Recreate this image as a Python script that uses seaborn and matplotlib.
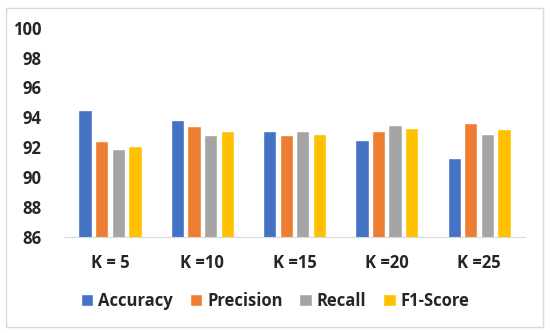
import numpy as np
import pandas as pd
import matplotlib.pyplot as plt
import seaborn as sns
from matplotlib.patches import Rectangle, Patch

categories = ["K = 5", "K =10", "K =15", "K =20", "K =25"]
metrics = ["Accuracy", "Precision", "Recall", "F1-Score"]
accuracy = [94.5, 93.8, 93.1, 92.5, 91.3]
precision = [92.4, 93.4, 92.8, 93.1, 93.6]
recall = [91.9, 92.8, 93.1, 93.5, 92.9]
f1_score = [92.1, 93.1, 92.9, 93.3, 93.2]
colors = ["#4472C4", "#ED7D31", "#A5A5A5", "#FFC000"]

df = pd.DataFrame({
    "K": categories * 4,
    "Metric": np.repeat(metrics, len(categories)),
    "Value": accuracy + precision + recall + f1_score,
})

sns.set_style("white")
plt.rcParams["font.family"] = ["Open Sans", "DejaVu Sans"]

fig = plt.figure(figsize=(5.5, 3.33), dpi=100)
ax = fig.add_axes([0.116, 0.288, 0.839, 0.629])

sns.barplot(data=df, x="K", y="Value", hue="Metric", palette=colors,
            saturation=1, width=0.72, gap=0.2, ax=ax, legend=False)

# excel-ish styling: bars start at 86, no grid
ax.set_ylim(86, 100)
ax.set_xlim(-0.5, 4.5)
ax.set_yticks(range(86, 101, 2))
ax.set_xlabel("")
ax.set_ylabel("")
for s in ["left", "right", "top"]:
    ax.spines[s].set_visible(False)
ax.spines["bottom"].set_color("#D9D9D9")
ax.tick_params(axis="both", length=0, labelsize=12)
ax.tick_params(axis="y", pad=16)
ax.tick_params(axis="x", pad=12)
for lab in ax.get_xticklabels() + ax.get_yticklabels():
    lab.set_fontweight("bold")

handles = [Patch(facecolor=c, label=m) for c, m in zip(colors, metrics)]
fig.legend(handles=handles, loc="center", bbox_to_anchor=(0.5, 0.097), ncol=4,
           frameon=False, prop={"size": 12, "weight": "bold"},
           handlelength=0.75, handleheight=0.75, handletextpad=0.3,
           columnspacing=1.0)

# light chart-area border
fig.patches.append(Rectangle((6 / 550, 1 - 327 / 333), 537 / 550, 319 / 333,
                             transform=fig.transFigure, fill=False,
                             edgecolor="#D9D9D9", linewidth=1))

plt.savefig("out.png", dpi=100)
